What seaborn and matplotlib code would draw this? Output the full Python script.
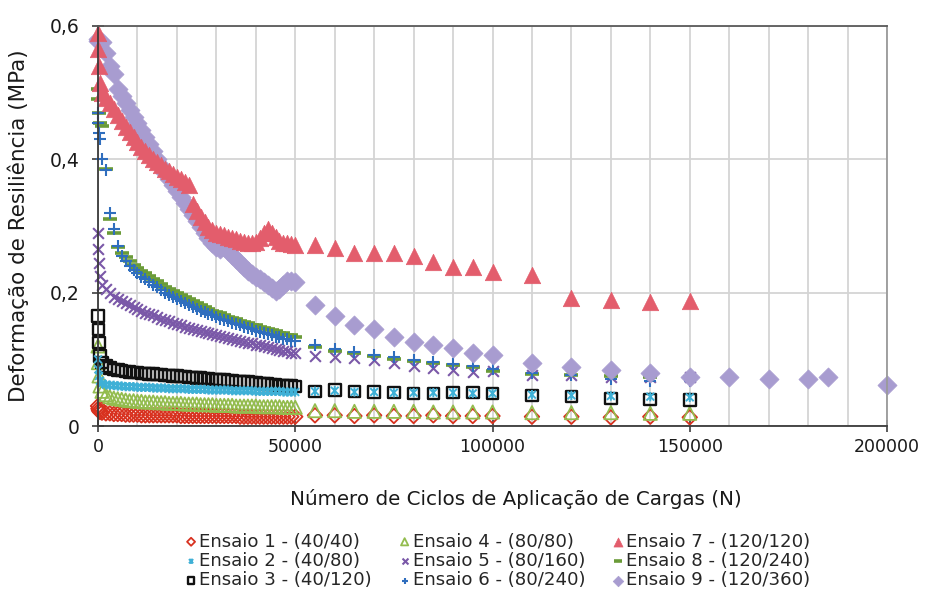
"""Deformação de resiliência x número de ciclos (ensaios triaxiais)."""

import matplotlib

matplotlib.use("Agg")
import matplotlib.pyplot as plt
import matplotlib.ticker as mticker
from matplotlib.path import Path
import seaborn as sns


# cycle counts of the readings
EARLY_N = [0, 100, 250, 500]
DENSE_N = [
    1000, 2000, 3000, 4000, 5000, 6000, 7000, 8000, 9000, 10000,
    11000, 12000, 13000, 14000, 15000, 16000, 17000, 18000, 19000, 20000,
    21000, 22000, 23000, 24000, 25000, 26000, 27000, 28000, 29000, 30000,
    31000, 32000, 33000, 34000, 35000, 36000, 37000, 38000, 39000, 40000,
    41000, 42000, 43000, 44000, 45000, 46000, 47000, 48000, 49000, 50000,
]
SPARSE_N = [55000, 60000, 65000, 70000, 75000, 80000, 85000, 90000, 95000,
            100000, 110000, 120000, 130000, 140000, 150000]
LATE_N_9 = [160000, 170000, 180000, 185000, 200000]

# resilient deformation (MPa), per test
E1 = [0.030, 0.026, 0.023, 0.021,
      0.020, 0.019, 0.019, 0.018, 0.018, 0.018, 0.017, 0.017, 0.017, 0.017,
      0.016, 0.016, 0.016, 0.016, 0.016, 0.016, 0.016, 0.016, 0.016, 0.016,
      0.015, 0.015, 0.015, 0.015, 0.015, 0.015, 0.015, 0.015, 0.015, 0.015,
      0.015, 0.015, 0.015, 0.015, 0.015, 0.014, 0.014, 0.014, 0.014, 0.014,
      0.014, 0.014, 0.014, 0.014, 0.014, 0.014, 0.014, 0.014, 0.014, 0.014,
      0.016, 0.016, 0.015, 0.016, 0.015, 0.015, 0.016, 0.015, 0.015, 0.015,
      0.014, 0.014, 0.013, 0.014, 0.013]
E2 = [0.100, 0.085, 0.075, 0.068,
      0.064, 0.062, 0.061, 0.061, 0.060, 0.060, 0.059, 0.059, 0.059, 0.058,
      0.058, 0.058, 0.058, 0.057, 0.057, 0.057, 0.057, 0.056, 0.056, 0.056,
      0.056, 0.056, 0.055, 0.055, 0.055, 0.055, 0.055, 0.054, 0.054, 0.054,
      0.054, 0.054, 0.054, 0.053, 0.053, 0.053, 0.053, 0.053, 0.053, 0.052,
      0.052, 0.052, 0.052, 0.052, 0.052, 0.052, 0.051, 0.051, 0.051, 0.051,
      0.052, 0.053, 0.051, 0.051, 0.050, 0.050, 0.050, 0.050, 0.049, 0.049,
      0.047, 0.046, 0.045, 0.044, 0.043]
E3 = [0.165, 0.145, 0.125, 0.105,
      0.095, 0.090, 0.087, 0.085, 0.084, 0.083, 0.082, 0.081, 0.080, 0.080,
      0.079, 0.079, 0.078, 0.078, 0.077, 0.077, 0.076, 0.076, 0.075, 0.075,
      0.074, 0.074, 0.073, 0.073, 0.072, 0.072, 0.071, 0.071, 0.070, 0.070,
      0.069, 0.069, 0.068, 0.068, 0.067, 0.067, 0.066, 0.066, 0.065, 0.065,
      0.064, 0.063, 0.063, 0.062, 0.062, 0.061, 0.061, 0.060, 0.060, 0.059,
      0.052, 0.054, 0.052, 0.051, 0.050, 0.049, 0.049, 0.050, 0.050, 0.049,
      0.046, 0.044, 0.041, 0.040, 0.039]
E4 = [0.120, 0.095, 0.075, 0.060,
      0.052, 0.047, 0.044, 0.042, 0.041, 0.040, 0.039, 0.038, 0.038, 0.037,
      0.037, 0.036, 0.036, 0.036, 0.035, 0.035, 0.035, 0.034, 0.034, 0.034,
      0.034, 0.033, 0.033, 0.033, 0.033, 0.032, 0.032, 0.032, 0.032, 0.031,
      0.031, 0.031, 0.031, 0.031, 0.030, 0.030, 0.030, 0.030, 0.030, 0.030,
      0.029, 0.029, 0.029, 0.029, 0.029, 0.029, 0.028, 0.028, 0.028, 0.028,
      0.023, 0.023, 0.022, 0.022, 0.022, 0.022, 0.021, 0.021, 0.021, 0.021,
      0.020, 0.020, 0.020, 0.019, 0.019]
E5 = [0.290, 0.265, 0.245, 0.225,
      0.212, 0.205, 0.199, 0.194, 0.190, 0.187, 0.184, 0.181, 0.178, 0.175,
      0.173, 0.170, 0.168, 0.166, 0.163, 0.161, 0.159, 0.157, 0.155, 0.153,
      0.151, 0.149, 0.147, 0.146, 0.144, 0.142, 0.141, 0.139, 0.138, 0.136,
      0.135, 0.133, 0.132, 0.130, 0.129, 0.128, 0.126, 0.125, 0.124, 0.122,
      0.121, 0.120, 0.118, 0.117, 0.116, 0.114, 0.113, 0.112, 0.110, 0.109,
      0.105, 0.104, 0.102, 0.099, 0.094, 0.090, 0.087, 0.084, 0.081, 0.082,
      0.077, 0.076, 0.074, 0.073, 0.073]
E6 = [0.470, 0.455, 0.440, 0.430,
      0.400, 0.384, 0.320, 0.295, 0.270, 0.255, 0.247, 0.240, 0.234, 0.229,
      0.224, 0.220, 0.216, 0.212, 0.208, 0.204, 0.200, 0.197, 0.194, 0.191,
      0.188, 0.185, 0.182, 0.179, 0.176, 0.173, 0.171, 0.168, 0.166, 0.163,
      0.161, 0.159, 0.157, 0.155, 0.153, 0.151, 0.149, 0.147, 0.145, 0.143,
      0.141, 0.139, 0.138, 0.136, 0.134, 0.133, 0.131, 0.130, 0.128, 0.127,
      0.121, 0.116, 0.111, 0.107, 0.103, 0.099, 0.096, 0.093, 0.090, 0.085,
      0.079, 0.076, 0.070, 0.068, 0.067]
E7 = [0.590, 0.565, 0.540, 0.515,
      0.500, 0.492, 0.485, 0.476, 0.466, 0.457, 0.449, 0.441, 0.433, 0.426,
      0.419, 0.413, 0.406, 0.401, 0.396, 0.391, 0.386, 0.382, 0.378, 0.374,
      0.370, 0.366, 0.362, 0.333, 0.323, 0.314, 0.306, 0.299, 0.294, 0.290,
      0.288, 0.286, 0.284, 0.282, 0.280, 0.278, 0.276, 0.275, 0.274, 0.276,
      0.282, 0.290, 0.295, 0.290, 0.283, 0.278, 0.275, 0.274, 0.273, 0.272,
      0.272, 0.267, 0.260, 0.260, 0.260, 0.255, 0.246, 0.239, 0.239, 0.231,
      0.226, 0.192, 0.189, 0.186, 0.188]
E8 = [0.505, 0.490, 0.470, 0.455,
      0.450, 0.385, 0.310, 0.290, 0.268, 0.260, 0.253, 0.247, 0.242, 0.237,
      0.233, 0.229, 0.225, 0.221, 0.217, 0.213, 0.209, 0.206, 0.202, 0.199,
      0.196, 0.193, 0.190, 0.187, 0.184, 0.181, 0.178, 0.176, 0.173, 0.171,
      0.169, 0.167, 0.164, 0.162, 0.160, 0.158, 0.156, 0.154, 0.152, 0.151,
      0.149, 0.147, 0.145, 0.144, 0.142, 0.140, 0.139, 0.137, 0.136, 0.134,
      0.118, 0.113, 0.109, 0.105, 0.101, 0.098, 0.094, 0.091, 0.088, 0.083,
      0.078, 0.077, 0.075, 0.074, 0.073]
E9 = [0.580, 0.578, 0.577, 0.577,
      0.576, 0.560, 0.540, 0.528, 0.505, 0.495, 0.485, 0.474, 0.464, 0.454,
      0.444, 0.434, 0.423, 0.412, 0.401, 0.390, 0.380, 0.370, 0.361, 0.352,
      0.343, 0.334, 0.325, 0.316, 0.307, 0.298, 0.290, 0.282, 0.275, 0.269,
      0.265, 0.268, 0.262, 0.256, 0.250, 0.244, 0.238, 0.233, 0.228, 0.224,
      0.220, 0.216, 0.212, 0.207, 0.203, 0.205, 0.212, 0.217, 0.218, 0.216,
      0.181, 0.165, 0.152, 0.145, 0.134, 0.126, 0.122, 0.117, 0.110, 0.106,
      0.094, 0.089, 0.084, 0.079, 0.074,
      0.074, 0.070, 0.070, 0.073, 0.061]

LABELS = [
    "Ensaio 1 - (40/40)", "Ensaio 2 - (40/80)", "Ensaio 3 - (40/120)",
    "Ensaio 4 - (80/80)", "Ensaio 5 - (80/160)", "Ensaio 6 - (80/240)",
    "Ensaio 7 - (120/120)", "Ensaio 8 - (120/240)", "Ensaio 9 - (120/360)",
]

# Excel-like "star" marker: x with a vertical bar
STAR = Path(
    [(-0.5, -0.5), (0.5, 0.5), (-0.5, 0.5), (0.5, -0.5), (0, -0.6), (0, 0.6)],
    [Path.MOVETO, Path.LINETO, Path.MOVETO, Path.LINETO, Path.MOVETO, Path.LINETO],
)

sns.set_theme(style="white")
plt.rcParams["font.family"] = ["DejaVu Sans"]

fig = plt.figure(figsize=(9.29, 5.96), dpi=100)
ax = fig.add_axes([98 / 929, 1 - 426 / 596, 789 / 929, 400 / 596])

n_std = EARLY_N + DENSE_N + SPARSE_N
n_9 = n_std + LATE_N_9

# (values, x, label, style) -- drawing order roughly as in the original sheet
series = [
    (E1, n_std, LABELS[0], dict(marker="D", s=55, facecolor="none", edgecolor="#D8311F", color="#D8311F", linewidth=1.3)),
    (E4, n_std, LABELS[3], dict(marker="^", s=90, facecolor="none", edgecolor="#93BC4E", color="#93BC4E", linewidth=1.3)),
    (E3, n_std, LABELS[2], dict(marker="s", s=70, facecolor="none", edgecolor="#111111", color="#111111", linewidth=1.7)),
    (E2, n_std, LABELS[1], dict(marker=STAR, s=45, facecolor="none", edgecolor="#3FB0D6", color="#3FB0D6", linewidth=1.4)),
    (E5, n_std, LABELS[4], dict(marker="x", s=60, color="#7A58A8", linewidth=1.5)),
    (E8, n_std, LABELS[7], dict(marker="_", s=100, color="#6A9B38", linewidth=2.6)),
    (E6, n_std, LABELS[5], dict(marker="+", s=75, color="#2F6EBE", linewidth=1.5)),
    (E9, n_9, LABELS[8], dict(marker="D", s=95, facecolor="#A89CD0", edgecolor="#A89CD0", color="#A89CD0", linewidth=0.5)),
    (E7, n_std, LABELS[6], dict(marker="^", s=140, facecolor="#E35D6C", edgecolor="#E35D6C", color="#E35D6C", linewidth=0.5)),
]

for values, cycles, label, style in series:
    sns.scatterplot(x=cycles, y=values, ax=ax, label=label, clip_on=False, legend=False, **style)

ax.set_xlim(0, 200000)
ax.set_ylim(0, 0.6)
ax.xaxis.set_major_locator(mticker.MultipleLocator(50000))
ax.xaxis.set_minor_locator(mticker.MultipleLocator(10000))
ax.yaxis.set_major_locator(mticker.MultipleLocator(0.2))
ax.xaxis.set_major_formatter(mticker.FuncFormatter(lambda v, _: f"{v:.0f}"))
ax.yaxis.set_major_formatter(
    mticker.FuncFormatter(lambda v, _: "0" if abs(v) < 1e-9 else f"{v:.1f}".replace(".", ","))
)

ax.grid(True, which="both", axis="x", color="#D4D4D4", linewidth=1.3)
ax.grid(True, which="major", axis="y", color="#D4D4D4", linewidth=1.3)
ax.set_axisbelow(True)
ax.tick_params(axis="both", which="major", direction="inout", length=8, width=1.2,
               colors="#404040", labelcolor="#1A1A1A", labelsize=12.5, bottom=True, left=True)
ax.tick_params(axis="x", which="major", pad=5)
ax.tick_params(axis="y", which="major", pad=9, labelsize=13.5)
ax.tick_params(axis="x", which="minor", length=0)

for side, color in {"left": "#3A3A3A", "bottom": "#3A3A3A", "top": "#5A5A5A", "right": "#9A9A9A"}.items():
    ax.spines[side].set_visible(True)
    ax.spines[side].set_color(color)
    ax.spines[side].set_linewidth(1.3)

ax.set_xlabel("Número de Ciclos de Aplicação de Cargas (N)", fontsize=14.3, color="#1A1A1A")
ax.set_ylabel("Deformação de Resiliência (MPa)", fontsize=15.5, color="#1A1A1A")
ax.xaxis.set_label_coords(0.53, -0.157)
ax.yaxis.set_label_coords(-0.087, 0.5)

# legend in the sheet's 3x3 layout (column-major order)
handles, labels = ax.get_legend_handles_labels()
order = [LABELS.index(lab) for lab in labels]
pairs = sorted(zip(order, handles, labels))
fig.legend(
    [h for _, h, _ in pairs], [l for _, _, l in pairs],
    loc="center", bbox_to_anchor=(498 / 929, 1 - 561 / 596), ncol=3,
    frameon=False, fontsize=13.1, markerscale=0.55, handlelength=0.6,
    handletextpad=0.15, columnspacing=1.5, labelspacing=0.08, borderpad=0.1,
)

fig.savefig("out.png", dpi=100, facecolor="white")
